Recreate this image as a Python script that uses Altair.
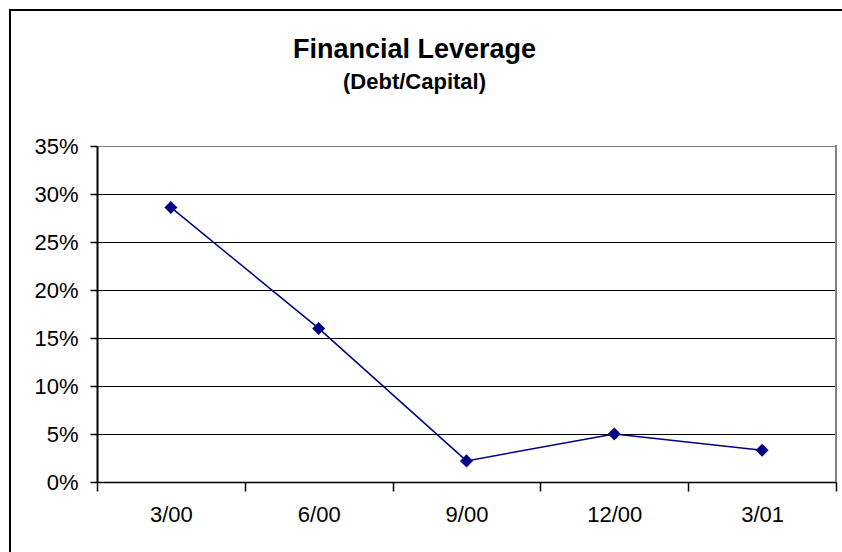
import altair as alt
import pandas as pd

periods = ["3/00", "6/00", "9/00", "12/00", "3/01"]
leverage = [0.286, 0.160, 0.022, 0.050, 0.033]
y_ticks = [0.0, 0.05, 0.10, 0.15, 0.20, 0.25, 0.30, 0.35]

W, H = 739, 336
FONT = "Liberation Sans"
NAVY = "#000080"
GRAY = "#808080"

df = pd.DataFrame({"idx": list(range(len(periods))), "period": periods, "value": leverage})
n = len(periods)
boundaries = [i - 0.5 for i in range(n + 1)]
arr = "[" + ",".join("'%s'" % p for p in periods) + "]"
label_expr = f"datum.value < {n - 0.6} ? {arr}[round(datum.value + 0.5)] : ''"

x_enc = alt.X(
    "idx:Q",
    scale=alt.Scale(domain=[-0.5, n - 0.5], nice=False, zero=False),
    axis=alt.Axis(
        values=boundaries, labelExpr=label_expr, labelOffset=W / n / 2,
        labelFlush=False, labelOverlap=False, grid=False, title=None,
        tickSize=9, tickColor="black", tickWidth=1.5,
        domainColor="black", domainWidth=1.5,
        labelFont=FONT, labelFontSize=22, labelColor="black", labelPadding=13,
    ),
)
y_enc = alt.Y(
    "value:Q",
    scale=alt.Scale(domain=[0, 0.35], nice=False),
    axis=alt.Axis(
        values=y_ticks, format=".0%", title=None,
        grid=True, gridColor={"condition": {"test": "datum.value > 0.34", "value": GRAY}, "value": "black"},
        gridWidth=1,
        tickSize=7, tickColor="black", tickWidth=1.5,
        domainColor="black", domainWidth=2,
        labelFont=FONT, labelFontSize=22, labelColor="black", labelPadding=12,
    ),
)

border = alt.Chart(pd.DataFrame({"a": [0]})).mark_rect(
    filled=False, stroke="black", strokeWidth=2
).encode(
    x=alt.value(-87), x2=alt.value(W + 40), y=alt.value(-136), y2=alt.value(H + 120)
)
right_edge = alt.Chart(pd.DataFrame({"a": [0]})).mark_rule(color=GRAY, strokeWidth=2).encode(
    x=alt.value(W), y=alt.value(-1), y2=alt.value(H)
)

line = alt.Chart(df).mark_line(color=NAVY, strokeWidth=1.5).encode(x=x_enc, y=y_enc)
points = alt.Chart(df).mark_point(shape="diamond", filled=True, size=170, color=NAVY, opacity=1).encode(
    x=x_enc, y=y_enc
)

chart = alt.layer(border, right_edge, line, points).properties(
    width=W, height=H,
    title=alt.TitleParams(
        text="Financial Leverage", subtitle="(Debt/Capital)",
        font=FONT, fontSize=27, fontWeight="bold", color="black",
        subtitleFont=FONT, subtitleFontSize=22, subtitleFontWeight="bold", subtitleColor="black",
        anchor="middle", dx=-52, offset=0, dy=85, subtitlePadding=8,
    ),
    autosize=alt.AutoSizeParams(type="none"),
    padding={"left": 97, "top": 146, "right": 6, "bottom": 70},
    background="white",
).configure_view(stroke=None)

chart.save("out.html", embed_options={"renderer": "svg", "actions": False})
